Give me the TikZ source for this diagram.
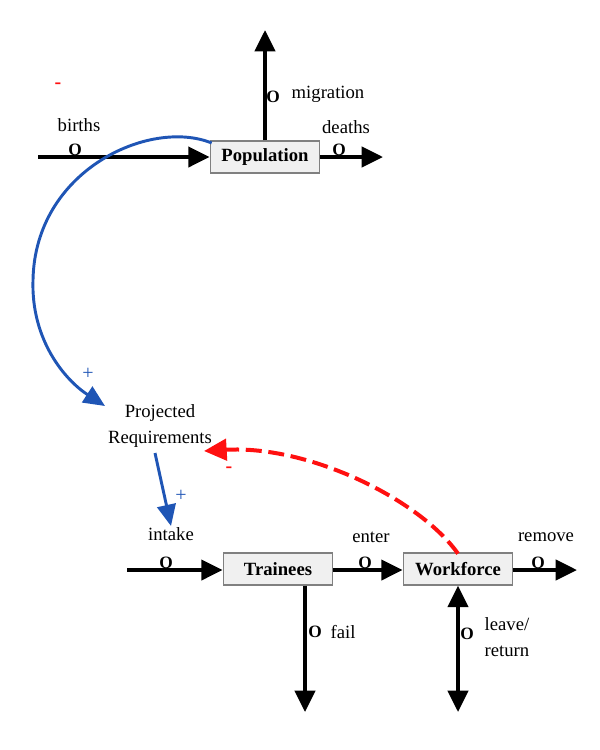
\documentclass[tikz,border=0pt]{standalone}
\usepackage{fontspec}
\setmainfont{Liberation Serif}
\usetikzlibrary{arrows.meta}
\definecolor{boxfill}{HTML}{F0F0F0}
\definecolor{boxdraw}{HTML}{808080}
\definecolor{linkblue}{HTML}{1F55B5}
\definecolor{linkred}{HTML}{FF1010}
\begin{document}
\begin{tikzpicture}[x=0.75pt,y=-0.75pt,
  stock/.style={draw=boxdraw,fill=boxfill,line width=1pt,minimum width=82pt,minimum height=24pt,inner sep=0pt,font=\fontsize{14}{16}\selectfont\bfseries},
  lbl/.style={font=\fontsize{14}{16}\selectfont,inner sep=0pt,align=left},
  valve/.style={font=\fontsize{13}{14}\selectfont\bfseries,inner sep=0pt},
  flow/.style={line width=3pt,-{Triangle[length=16pt,width=15pt]}},
  blink/.style={draw=linkblue,line width=2.2pt,-{Triangle[length=16pt,width=14pt]}},
  rlink/.style={draw=linkred,line width=3pt,dash pattern=on 12pt off 5pt,-{Triangle[length=17pt,width=16pt]}},
  sign/.style={font=\fontsize{15}{16}\selectfont,inner sep=0pt}]
\useasboundingbox (0,0) rectangle (600,750);
% stocks
\node[stock] (pop) at (265,157) {Population};
\node[stock] (tr) at (278,569) {Trainees};
\node[stock] (wf) at (458,569) {Workforce};
\node[lbl,align=center] (pr) at (160,426) {Projected\\[3pt]Requirements};
% free ends
\coordinate (bsrc) at (38,157);
\coordinate (mtop) at (265,30);
\coordinate (dend) at (383,157);
\coordinate (isrc) at (127,570);
\coordinate (rend) at (577,570);
\coordinate (fend) at (305,712);
\coordinate (lend) at (458,712);
\coordinate (prin) at (105,406);
\coordinate (prtop) at (204,451);
\coordinate (prout) at (155,453);
\coordinate (intk) at (171,526);
\coordinate (bend) at (33,280);
% population flows
\draw[flow] (bsrc) -- (pop.west);
\draw[flow] (pop.north) -- (mtop);
\draw[flow] (pop.east) -- (dend);
% workforce flows
\draw[flow] (isrc) -- (tr.west |- isrc);
\draw[flow] (tr.east |- isrc) -- (wf.west |- isrc);
\draw[flow] (wf.east |- isrc) -- (rend);
\draw[flow] (tr.south -| fend) -- (fend);
\draw[line width=3pt,{Triangle[length=16pt,width=15pt]}-{Triangle[length=16pt,width=15pt]}] (wf.south) -- (lend);
% valves
\node[valve] (v1) at (75,150) {O};
\node[valve] (v2) at (273,97) {O};
\node[valve] (v3) at (339,150) {O};
\node[valve] (v4) at (166,563) {O};
\node[valve] (v5) at (365,563) {O};
\node[valve] (v6) at (538,563) {O};
\node[valve] (v7) at (315,632) {O};
\node[valve] (v8) at (467,634) {O};
% labels
\node[lbl] (lb) at (79,125) {births};
\node[lbl] (lm) at (328,94) {migration};
\node[lbl] (ld) at (346,127) {deaths};
\node[lbl] (li) at (171,534) {intake};
\node[lbl] (le) at (371,537) {enter};
\node[lbl] (lr) at (546,537) {remove};
\node[lbl] (lf) at (343,632) {fail};
\node[lbl] (ll) at (507,637) {leave/\\[3pt]return};
% links
\draw[blink] ([xshift=1.5pt,yshift=-2pt]pop.north west) .. controls (150,118) and (35,170) .. (bend) .. controls (31,340) and (65,380) .. (prin);
\draw[blink] (prout) -- (intk);
\draw[rlink] ([yshift=-1pt]wf.north) .. controls (420,500) and (310,445) .. (prtop);
% signs
\node[sign,text=linkred,font=\fontsize{15}{16}\selectfont\bfseries] (s1) at (58,86) {-};
\node[sign,text=linkblue] (s2) at (88,374) {+};
\node[sign,text=linkblue] (s3) at (181,496) {+};
\node[sign,text=linkred,font=\fontsize{15}{16}\selectfont\bfseries] (s4) at (229,470) {-};
\end{tikzpicture}
\end{document}
